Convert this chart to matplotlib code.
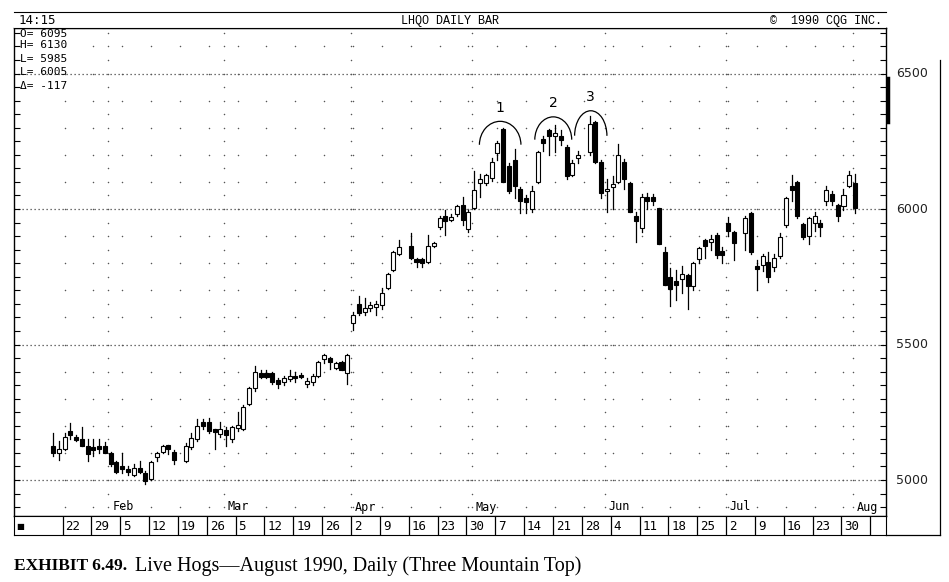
import matplotlib
matplotlib.use("Agg")
import matplotlib.pyplot as plt
from matplotlib.patches import Rectangle, Arc
import numpy as np
import pandas as pd

# ---------------- data ----------------
start_date = "1990-01-18"
end_date = "1990-08-01"
holidays = ["1990-02-19", "1990-04-13", "1990-05-28", "1990-07-04"]

opens = [5125,5105,5115,5175,5155,5150,5125,5120,5125,5125,5100,5065,5050,5040,5020,5040,5025,5005,5085,5105,5125,5105,
         5070,5120,5150,5210,5215,5185,5170,5185,5150,5195,5190,5280,5340,5395,5390,5395,5365,5360,5375,5385,5385,5360,5360,5385,5445,5445,5415,5435,5395,
         5580,5650,5620,5635,5640,5645,5710,5775,5835,
         5865,5810,5810,5805,5865,5935,5975,5960,5980,6015,5925,6005,6100,6095,6115,6205,6295,6160,6180,6075,6035,6000,6100,6260,6290,6275,6265,6230,6125,6190,
         6210,6320,6175,6070,6085,6100,6175,6095,5975,5930,6045,6045,6005,5840,5750,5730,5740,5755,5715,5815,5885,5880,5905,5840,5950,5915,
         5910,5985,5790,5795,5805,5785,5825,5940,6080,6100,5945,5900,5950,5950,6030,6055,6015,6010,6085,6095]
highs = [5175,5145,5175,5210,5165,5196,5150,5150,5150,5140,5105,5070,5100,5050,5060,5070,5035,5070,5105,5130,5130,5110,
         5135,5175,5225,5225,5230,5190,5215,5195,5200,5250,5275,5345,5420,5405,5405,5400,5375,5385,5405,5400,5395,5375,5390,5440,5465,5455,5435,5440,5465,
         5620,5680,5670,5655,5660,5710,5765,5845,5885,
         5910,5820,5820,5905,5880,5975,5995,5980,6015,6045,5995,6140,6130,6130,6190,6250,6300,6170,6220,6080,6050,6085,6215,6270,6295,6310,6290,6235,6180,6215,
         6345,6325,6180,6110,6120,6240,6185,6100,5990,6055,6060,6055,6005,5860,5782,5775,5790,5760,5805,5860,5890,5905,5910,5860,5970,5920,
         5975,5990,5810,5835,5840,5835,5910,6045,6125,6105,5950,5970,5990,5960,6085,6065,6020,6075,6140,6130]
lows = [5090,5075,5110,5150,5145,5125,5070,5090,5100,5100,5050,5025,5025,5020,5015,5025,4985,5000,5070,5100,5095,5060,
        5065,5115,5145,5190,5175,5115,5160,5125,5140,5180,5185,5275,5330,5375,5375,5355,5340,5350,5365,5360,5375,5345,5350,5380,5430,5410,5410,5405,5355,
        5555,5610,5610,5625,5610,5630,5705,5770,5830,
        5815,5785,5785,5800,5860,5925,5905,5955,5975,5940,5915,6000,6045,6090,6105,6180,6100,6060,6040,5985,5985,5990,6095,6215,6200,6210,6235,6110,6120,6170,
        6200,6170,6040,5990,6000,6095,6075,5990,5880,5915,6000,6015,5870,5720,5641,5665,5690,5630,5700,5800,5820,5850,5820,5800,5900,5810,
        5850,5835,5700,5770,5730,5770,5820,5935,6030,5965,5890,5870,5920,5900,6015,6015,5955,5995,6080,5985]
closes = [5100,5110,5160,5170,5150,5125,5095,5110,5115,5100,5060,5030,5040,5030,5045,5035,4995,5065,5100,5125,5120,5075,
          5125,5155,5200,5205,5180,5180,5190,5165,5195,5200,5270,5340,5400,5380,5385,5360,5360,5375,5378,5375,5383,5362,5385,5435,5460,5440,5430,5405,5460,
          5610,5615,5635,5645,5650,5690,5760,5840,5860,
          5820,5807,5805,5865,5875,5965,5955,5970,6010,5960,5990,6070,6105,6125,6175,6245,6100,6065,6085,6030,6030,6065,6210,6245,6270,6275,6260,6120,6170,6200,
          6315,6175,6060,6070,6090,6200,6110,5990,5955,6045,6030,6030,5870,5720,5705,5725,5760,5715,5800,5855,5865,5890,5830,5835,5920,5875,
          5965,5840,5780,5825,5750,5820,5895,6040,6075,5975,5895,5965,5975,5935,6070,6030,5975,6050,6125,6005]

price_levels = [5000, 5500, 6000, 6500]
week_labels = ["22","29","5","12","19","26","5","12","19","26","2","9","16","23","30","7","14","21","28","4","11","18","25","2","9","16","23","30"]
month_labels = ["Feb","Mar","Apr","May","Jun","Jul","Aug"]
info_lines = ["O= 6095", "H= 6130", "L= 5985", "L= 6005", "Δ= -117"]

# ---------------- positions ----------------
all_days = pd.bdate_range(start_date, end_date)
trade_days = all_days[~all_days.isin(pd.to_datetime(holidays))]
slot_of = {d: i for i, d in enumerate(all_days)}
xs = np.array([slot_of[d] for d in trade_days])
mondays = [slot_of[d] for d in all_days if d.weekday() == 0]
month_starts = []
for m in range(2, 9):
    first = [d for d in all_days if d.month == m][0]
    month_starts.append(slot_of[first])

W, H = 949, 582
fig = plt.figure(figsize=(W/100, H/100), dpi=100)
def fx(p): return p / W
def fy(p): return 1 - p / H

ax = fig.add_axes([fx(14), fy(516), fx(886-14), fy(28)-fy(516)])
def px2slot(p): return (p - 53) / 5.77
def py2price(p): return 6000 + (209 - p) * 500 / 135.5
ax.set_xlim(px2slot(14), px2slot(886))
ax.set_ylim(py2price(516), py2price(28))

# grid dots
for lv in price_levels:
    ax.axhline(lv, color="#444", lw=0.9, ls=(0, (1, 2.2)), zorder=1)
dot_prices = np.arange(4900, 6700, 100)
for m in mondays:
    ax.scatter([m]*len(dot_prices), dot_prices, s=1.2, color="#555", zorder=1, lw=0)
for m in month_starts:
    pp = np.arange(4900, 6700, 50)
    ax.scatter([m-0.4]*len(pp), pp, s=1.2, color="#555", zorder=1, lw=0)

# candles
for x, o, h, l, c in zip(xs, opens, highs, lows, closes):
    ax.plot([x, x], [l, h], color="black", lw=0.9, zorder=2)
    lo, hi = min(o, c), max(o, c)
    if hi - lo < 6:
        hi, lo = hi + 4, lo - 4
    face = "black" if c < o else "white"
    ax.add_patch(Rectangle((x - 0.35, lo), 0.7, hi - lo, facecolor=face,
                           edgecolor="black", lw=0.8, zorder=3))

# arcs
for cx, cy, w, h, lab, t1, t2 in [(77.5, 6236, 7.2, 175, "1", 20, 165),
                                 (86.7, 6255, 6.4, 170, "2", 15, 165),
                                 (93.2, 6270, 5.6, 185, "3", 0, 170)]:
    ax.add_patch(Arc((cx, cy), w, h, theta1=t1, theta2=t2, color="black", lw=0.9, zorder=4))
    ax.text(cx, cy + h/2 + 25, lab, ha="center", va="bottom", fontsize=10, family="DejaVu Sans")

# month labels
for m, lab in zip(month_starts, month_labels):
    ax.text(m + 0.3, py2price(507), lab, fontsize=8.5, va="center", ha="left", family="DejaVu Sans Mono")

# axes styling
ax.set_xticks([])
ax.yaxis.tick_right()
ax.set_yticks(np.arange(4900, 6700, 50))
ax.set_yticklabels([])
ax.tick_params(axis="y", direction="in", length=4, width=0.8, left=True, right=True)
for s in ax.spines.values():
    s.set_linewidth(1.0)
for lv in price_levels:
    fig.text(fx(912), fy(209 - (lv - 6000) * 135.5 / 500), str(lv), fontsize=9,
             ha="center", va="center", family="DejaVu Sans", color="#222")

# info text
for t, yp in zip(info_lines, [34, 45, 59, 72, 86]):
    ax.text(px2slot(20), py2price(yp), t, fontsize=8, va="center",
            family="DejaVu Sans Mono", linespacing=1)

# header
hax = fig.add_axes([fx(14), fy(28), fx(886-14), fy(12)-fy(28)])
hax.set_xticks([]); hax.set_yticks([])
for s in ["left", "right"]:
    hax.spines[s].set_visible(False)
hax.text(0.005, 0.45, "14:15", fontsize=9, va="center", family="DejaVu Sans Mono")
hax.text(0.5, 0.45, "LHQO DAILY BAR", fontsize=8.5, va="center", ha="center", family="Liberation Mono")
hax.text(0.995, 0.45, "©  1990 CQG INC.", fontsize=8.5, va="center", ha="right", family="Liberation Mono")

# date bar
dax = fig.add_axes([fx(14), fy(535), fx(886-14), fy(516)-fy(535)], sharex=ax)
dax.set_ylim(0, 1)
dax.set_xticks([]); dax.set_yticks([])
edges = [m - 0.35 for m in mondays]
for e in edges:
    dax.axvline(e, color="black", lw=0.9)
for e, lab in zip(edges, week_labels):
    dax.text(e + 0.5, 0.45, lab, fontsize=9, va="center", ha="left", family="DejaVu Sans Mono")
dax.text(px2slot(20), 0.45, "■", fontsize=6, va="center", ha="center")
dax.axvline(edges[-1] + 5, color="black", lw=0.9)

# outer right line
fig.add_artist(plt.Line2D([fx(940), fx(940)], [fy(60), fy(535)], color="black", lw=0.9))
fig.add_artist(plt.Line2D([fx(886), fx(940)], [fy(535), fy(535)], color="black", lw=0.9))
fig.add_artist(plt.Line2D([fx(888), fx(888)], [fy(78), fy(122)], color="black", lw=2.5))

# caption
t1 = fig.text(fx(14), fy(566), "EXHIBIT 6.49.", fontsize=12.5, fontweight="bold",
              family="Liberation Serif", va="center")
fig.canvas.draw()
bb = t1.get_window_extent()
fig.text(fx(bb.x1 + 8), fy(566), "Live Hogs\u2014August 1990, Daily (Three Mountain Top)", fontsize=14.5,
         family="Liberation Serif", va="center")

fig.savefig("out.png", dpi=100)
